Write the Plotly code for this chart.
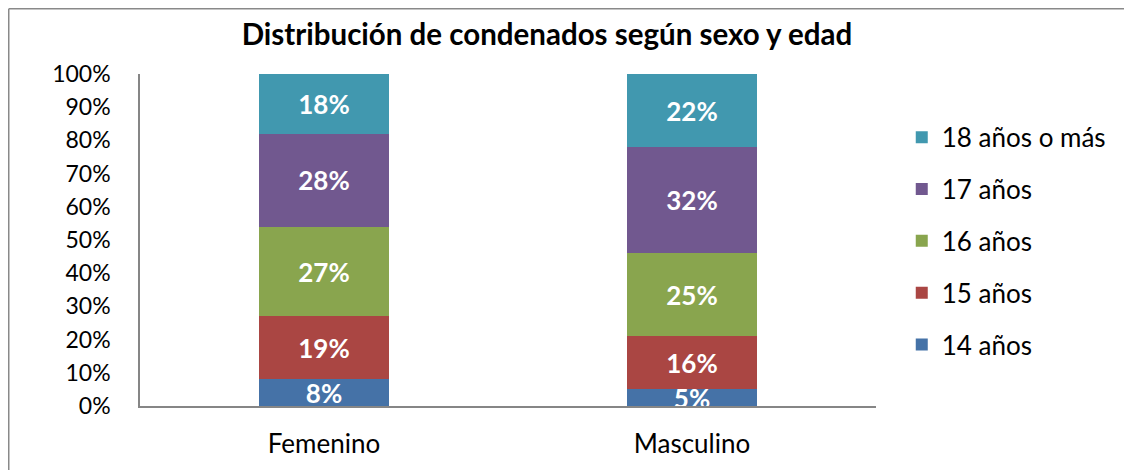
import plotly.graph_objects as go

categories = ["Femenino", "Masculino"]
series_names = ["14 años", "15 años", "16 años", "17 años", "18 años o más"]
v14 = [8, 5]
v15 = [19, 16]
v16 = [27, 25]
v17 = [28, 32]
v18 = [18, 22]
colors = ["#4572A7", "#AA4643", "#89A54E", "#71588F", "#4198AF"]
yticks = [0, 10, 20, 30, 40, 50, 60, 70, 80, 90, 100]
ytick_labels = [f"{t}%" for t in yticks]

FONT = "Lato"
W, H = 1124, 462
ML, MR, MT, MB = 132, 256, 66, 64
PW, PH = W - ML - MR, H - MT - MB

fig = go.Figure()
for i, (name, vals) in enumerate(zip(series_names, [v14, v15, v16, v17, v18])):
    fig.add_trace(go.Bar(
        x=categories, y=vals, name=name, legendgroup=name,
        legendrank=100 - i,
        marker=dict(color=colors[i], line=dict(width=0)),
        text=[f"{v}%" for v in vals], textposition="inside",
        insidetextanchor="middle", constraintext="none",
        textfont=dict(color="white", size=26, family=FONT, weight="bold"),
        hoverinfo="skip",
    ))

bx0 = (0.75 - ML) / PW
bx1 = (W + 60 - ML) / PW
by0 = -(MB + 20) / PH
by1 = 1 + (MT - 0.75) / PH
border = dict(color="#898989", width=1.5)

fig.update_layout(
    barmode="stack", bargap=0.647,
    width=W, height=H,
    margin=dict(l=ML, r=MR, t=MT, b=MB),
    paper_bgcolor="white", plot_bgcolor="white",
    font=dict(family=FONT, color="black", size=23),
    title=dict(text="<b>Distribución de condenados según sexo y edad</b>",
               x=0.4795, xanchor="center", y=1 - 27 / H, yanchor="middle",
               xref="container", yref="container",
               font=dict(size=29.5, family=FONT, color="black")),
    xaxis=dict(showline=True, linecolor="#868686", linewidth=1.5,
               ticks="", tickfont=dict(size=26), ticklabelstandoff=14),
    yaxis=dict(range=[0, 100], tickvals=yticks, ticktext=ytick_labels,
               showgrid=False, zeroline=False, showline=True,
               linecolor="#868686", linewidth=1.5, ticks="",
               tickfont=dict(size=23), ticklabelstandoff=23),
    legend=dict(x=1.035, y=0.88, xanchor="left", yanchor="top",
                traceorder="grouped", tracegroupgap=15,
                font=dict(size=26, family=FONT), itemwidth=30),
    showlegend=True,
    shapes=[
        dict(type="line", xref="paper", yref="paper",
             x0=bx0, x1=bx0, y0=by0, y1=by1, line=border, layer="below"),
        dict(type="line", xref="paper", yref="paper",
             x0=bx0, x1=bx1, y0=by1, y1=by1, line=border, layer="below"),
    ],
)

fig.write_html("out.html")
